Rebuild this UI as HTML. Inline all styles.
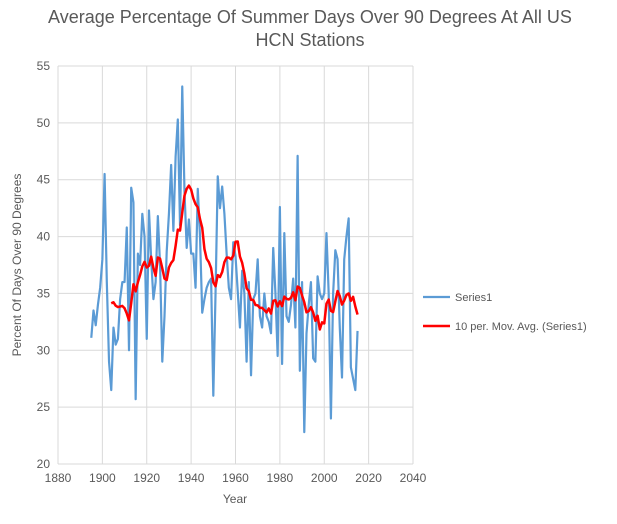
<!DOCTYPE html>
<html><head><meta charset="utf-8"><style>
body{margin:0;background:#fff;font-family:"Liberation Sans",sans-serif}
svg text{font-family:"Liberation Sans",sans-serif;fill:#595959}
</style></head><body>
<svg id="c" width="617" height="519">
<text x="310" y="23" text-anchor="middle" font-size="18">Average Percentage Of Summer Days Over 90 Degrees At All US</text>
<text x="310" y="46" text-anchor="middle" font-size="18">HCN Stations</text>
<text transform="translate(21,265) rotate(-90)" text-anchor="middle" font-size="12">Percent Of Days Over 90 Degrees</text>
<text x="235" y="503" text-anchor="middle" font-size="12">Year</text>
<g id="grid"></g><g id="marks"></g>
<line x1="423" y1="297" x2="450" y2="297" stroke="#5b9bd5" stroke-width="2.2"/>
<text x="455" y="301" font-size="11">Series1</text>
<line x1="423" y1="326" x2="450" y2="326" stroke="#ff0000" stroke-width="2.5"/>
<text x="455" y="330" font-size="11">10 per. Mov. Avg. (Series1)</text>
</svg>
<script>
const startYear=1895;
const values=[31.1,33.5,32.2,34,35.5,38,45.5,36,29,26.5,32,30.5,31,34.5,36,36,40.8,30,44.3,43,25.7,38.5,37.5,42,40,31,42.3,38,34.5,36,41.8,37.5,29,33,38.7,42,46.3,40.5,47,50.3,41,53.2,44,39,41.5,38.5,38.5,35.5,44.2,40,33.3,34.5,35.5,36,36.3,26,35,45.3,42.5,44.4,42,38.5,35.5,34.5,39.5,38.3,35.2,32,37,35,29,36,27.8,34.5,35,38,33,32,35,33,32.5,31.5,39,35,29.5,42.6,28.8,40.3,33,32.5,34,36.3,32,47.1,28.2,36,22.8,31.5,34,36,29.3,29,36.5,35,34.5,35,40.3,35,24,35,38.8,38,32,27.6,38,40,41.6,28.5,27.5,26.5,31.7];
const xTicks=[1880,1900,1920,1940,1960,1980,2000,2020,2040];
const yTicks=[20,25,30,35,40,45,50,55];
const period=10;
const X=v=>58+(v-1880)*(413-58)/160, Y=v=>464-(v-20)*(464-66)/35;
const NS="http://www.w3.org/2000/svg";
const g=document.getElementById('grid'),m=document.getElementById('marks');
function mk(t,a,p){const e=document.createElementNS(NS,t);for(const k in a)e.setAttribute(k,a[k]);p.appendChild(e);return e;}
xTicks.forEach(t=>{const l=mk('line',{x1:X(t),x2:X(t),y1:66,y2:464,stroke:'#d9d9d9'},g);


const tx=mk('text',{x:X(t),y:482,'text-anchor':'middle','font-size':12},g);tx.textContent=t;

});
yTicks.forEach(t=>{const l=mk('line',{x1:58,x2:413,y1:Y(t),y2:Y(t),stroke:'#d9d9d9'},g);


const tx=mk('text',{x:50,y:Y(t)+4,'text-anchor':'end','font-size':12},g);tx.textContent=t;

});
const pts=values.map((v,i)=>X(startYear+i)+','+Y(v)).join(' ');
const s=mk('polyline',{points:pts,fill:'none',stroke:'#5b9bd5','stroke-width':2.2,'stroke-linejoin':'round'},m);


const ma=[];for(let i=period-1;i<values.length;i++){let sm=0;for(let j=i-period+1;j<=i;j++)sm+=values[j];ma.push(X(startYear+i)+','+Y(sm/period));}
const r=mk('polyline',{points:ma.join(' '),fill:'none',stroke:'#ff0000','stroke-width':2.5,'stroke-linejoin':'round'},m);


</script>
</body></html>
